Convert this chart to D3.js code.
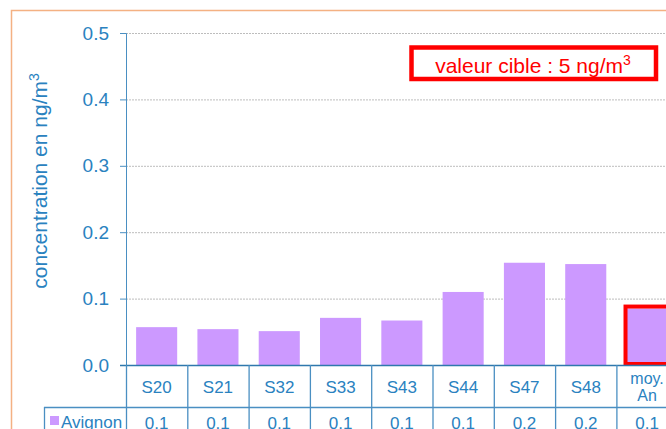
<!DOCTYPE html>
<html>
<head>
<meta charset="utf-8">
<script src="https://cdn.jsdelivr.net/npm/d3@7"></script>
<style>
  body { margin: 0; background: #fff; }
  text { font-family: Arial, "Liberation Sans", sans-serif; }
</style>
</head>
<body>
<script>
// week labels + yearly mean (last one is shown on two lines)
var categories = ["S20", "S21", "S32", "S33", "S43", "S44", "S47", "S48", "moy. An"];
// bar heights, ng/m3
var avignon = [0.057, 0.054, 0.051, 0.071, 0.067, 0.110, 0.154, 0.152, 0.085];
// values printed in the data table (rounded to 1 decimal)
var tableLabels = ["0.1", "0.1", "0.1", "0.1", "0.1", "0.1", "0.2", "0.2", "0.1"];
var yTicks = [0, 0.1, 0.2, 0.3, 0.4, 0.5];
var seriesName = "Avignon";

var width = 666, height = 429;
var blue = "#2a82bf", lineBlue = "#4a8fc2", barColour = "#cc99ff";

var svg = d3.select("body").append("svg")
  .attr("width", width)
  .attr("height", height);

// outer orange frame of the chart area
svg.append("rect")
  .attr("x", 11.5).attr("y", 10.5)
  .attr("width", 700).attr("height", 500)
  .attr("fill", "none")
  .attr("stroke", "#f4b183")
  .attr("stroke-width", 1.5);

var x = d3.scaleBand()
  .domain(categories)
  .range([126, 126 + 9 * 61.3])
  .paddingInner(0.33)
  .paddingOuter(0.165);

var y = d3.scaleLinear()
  .domain([0, 0.5])
  .range([365, 33]);

var step = x.step();
function cellLeft(c) { return x(c) - x.paddingOuter() * step; }

// dotted gridlines
svg.append("g").selectAll("line")
  .data(yTicks.slice(1))
  .enter().append("line")
  .attr("x1", 126).attr("x2", width)
  .attr("y1", function(d) { return y(d) + 0.5; })
  .attr("y2", function(d) { return y(d) + 0.5; })
  .attr("stroke", "#bdbdbd")
  .attr("stroke-dasharray", "2,1");

// bars
svg.append("g").selectAll("rect")
  .data(avignon)
  .enter().append("rect")
  .attr("x", function(d, i) { return x(categories[i]); })
  .attr("y", function(d) { return y(d); })
  .attr("width", x.bandwidth())
  .attr("height", function(d) { return y(0) - y(d); })
  .attr("fill", barColour);

// red frame around the yearly mean bar
var last = categories[categories.length - 1];
svg.append("rect")
  .attr("x", x(last) - 1)
  .attr("y", y(avignon[avignon.length - 1]) - 2)
  .attr("width", x.bandwidth() + 4)
  .attr("height", y(0) - y(avignon[avignon.length - 1]) + 1)
  .attr("fill", "none")
  .attr("stroke", "#ff0000")
  .attr("stroke-width", 4);

// y axis
var yAxis = svg.append("g")
  .attr("transform", "translate(126,0)")
  .call(d3.axisLeft(y).tickValues(yTicks).tickFormat(d3.format(".1f")).tickSize(6).tickPadding(11));
yAxis.select(".domain").attr("stroke", lineBlue);
yAxis.selectAll(".tick line").attr("stroke", lineBlue);
yAxis.selectAll(".tick text")
  .attr("fill", blue)
  .style("font-size", "19px");

svg.append("text")
  .attr("transform", "translate(47,181) rotate(-90)")
  .attr("text-anchor", "middle")
  .attr("fill", blue)
  .style("font-size", "21px")
  .text("concentration en ng/m")
  .append("tspan")
  .attr("dy", "-0.55em")
  .style("font-size", "14px")
  .text("3");

// data table under the axis
var table = svg.append("g");
table.append("line")
  .attr("x1", 120).attr("x2", width)
  .attr("y1", 365.5).attr("y2", 365.5)
  .attr("stroke", "#2f78ad").attr("stroke-width", 1.3);
table.append("line")
  .attr("x1", 44).attr("x2", width)
  .attr("y1", 407.5).attr("y2", 407.5)
  .attr("stroke", lineBlue).attr("stroke-width", 1.3);
table.append("line")
  .attr("x1", 44.5).attr("x2", 44.5)
  .attr("y1", 407).attr("y2", height)
  .attr("stroke", lineBlue).attr("stroke-width", 1.3);
table.selectAll(".vline")
  .data(categories)
  .enter().append("line")
  .attr("class", "vline")
  .attr("x1", function(d) { return cellLeft(d) + 0.5; })
  .attr("x2", function(d) { return cellLeft(d) + 0.5; })
  .attr("y1", 365).attr("y2", height)
  .attr("stroke", lineBlue).attr("stroke-width", 1.3);

table.selectAll(".cat")
  .data(categories)
  .enter().append("text")
  .attr("class", "cat")
  .attr("x", function(d) { return x(d) + x.bandwidth() / 2; })
  .attr("y", function(d) { return d.indexOf(" ") > -1 ? 384 : 393; })
  .attr("text-anchor", "middle")
  .attr("fill", blue)
  .style("font-size", function(d) { return d.indexOf(" ") > -1 ? "16px" : "17px"; })
  .each(function(d) {
    var parts = d.split(" ");
    var t = d3.select(this);
    parts.forEach(function(p, i) {
      t.append("tspan")
        .attr("x", x(d) + x.bandwidth() / 2)
        .attr("dy", i === 0 ? 0 : 17)
        .text(p);
    });
  });

table.append("rect")
  .attr("x", 50).attr("y", 416)
  .attr("width", 9).attr("height", 9)
  .attr("fill", barColour);
table.append("text")
  .attr("x", 61).attr("y", 428)
  .attr("fill", blue)
  .style("font-size", "17px")
  .text(seriesName);

table.selectAll(".val")
  .data(tableLabels)
  .enter().append("text")
  .attr("class", "val")
  .attr("x", function(d, i) { return x(categories[i]) + x.bandwidth() / 2; })
  .attr("y", 429)
  .attr("text-anchor", "middle")
  .attr("fill", blue)
  .style("font-size", "17px")
  .text(function(d) { return d; });

// target value annotation
svg.append("rect")
  .attr("x", 411.5).attr("y", 47.5)
  .attr("width", 244.5).attr("height", 31.5)
  .attr("fill", "#fff")
  .attr("stroke", "#ff0000")
  .attr("stroke-width", 4.5);
svg.append("text")
  .attr("x", 533).attr("y", 73)
  .attr("text-anchor", "middle")
  .attr("fill", "#ff0000")
  .style("font-size", "21px")
  .text("valeur cible : 5 ng/m")
  .append("tspan")
  .attr("dy", "-0.55em")
  .style("font-size", "14px")
  .text("3");
</script>
</body>
</html>
